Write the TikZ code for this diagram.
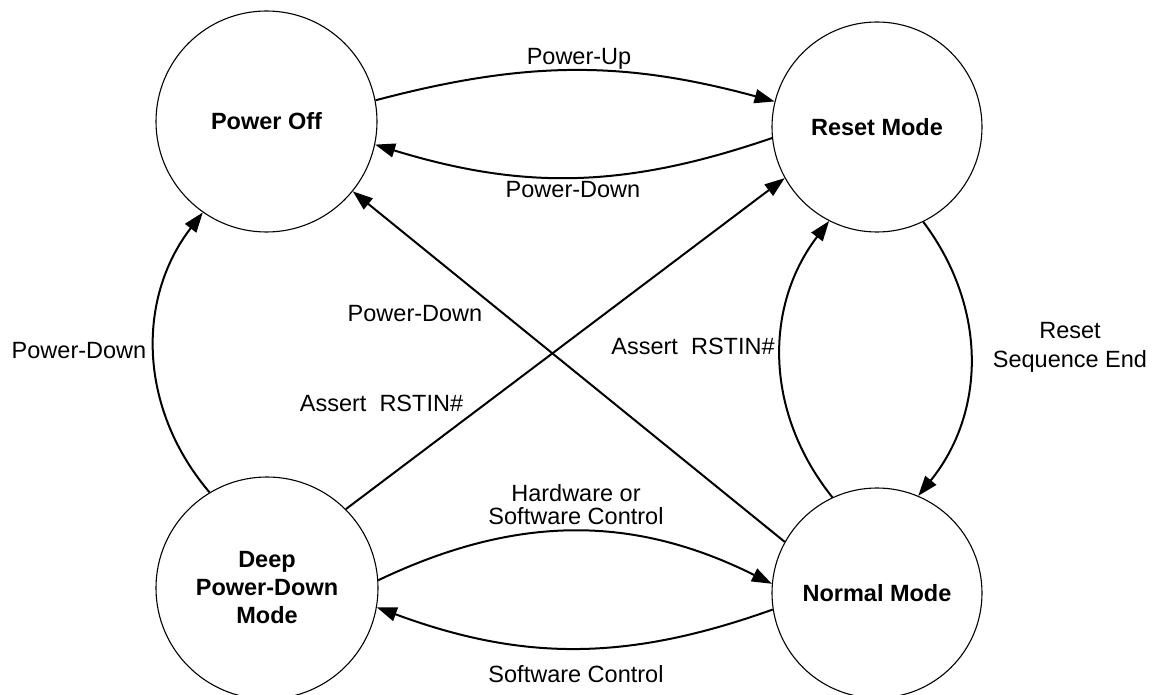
\documentclass[tikz,border=0pt]{standalone}
\usepackage{fontspec}
\setmainfont{Liberation Sans}
\usetikzlibrary{arrows.meta}
\newcommand\diagfont{\fontsize{23.5}{28}\selectfont}
\begin{document}
\begin{tikzpicture}[x=1pt,y=-1pt,
  state/.style={circle,draw,line width=1.1pt,inner sep=0pt,align=center,
    font=\diagfont\bfseries},
  trans/.style={line width=2pt,-{Triangle[length=20pt,width=14pt]}},
  lbl/.style={anchor=base,inner sep=0pt,align=center,font=\diagfont}]
\useasboundingbox (0,0) rectangle (1152,695);

% states
\node[state,minimum size=221pt] (off) at (266.5,121.5) {Power Off};
\node[state,minimum size=210pt] (rst) at (877,127) {Reset Mode};
\node[state,minimum size=222pt] (dpd) at (267,588) {Deep\\Power-Down\\Mode};
\node[state,minimum size=210pt] (nrm) at (877,593) {Normal Mode};

% transitions
\draw[trans] (off.11.7)   to[bend left=15] (rst.166.6);
\draw[trans] (rst.186)    to[bend left=18] (off.-12.3);
\draw[trans] (dpd.4.2)    to[bend left=26] (nrm.175.6);
\draw[trans] (nrm.189.5)  to[bend left=20] (dpd.-10.7);
\draw[trans] (dpd.121.5)  to[bend left=39] (off.235.5);
\draw[trans] (nrm.151.7)  -- (off.-39.9);
\draw[trans] (dpd.45.7)   -- (rst.209);
\draw[trans] (nrm.115.4)  to[bend left=38] (rst.243.2);
\draw[trans] (rst.-64.6)  to[bend left=38] (nrm.67.8);

% transition labels (base = baseline of the last line)
\node[lbl] (lPU)  at (579,65)    {Power-Up};
\node[lbl] (lPD1) at (573,198)   {Power-Down};
\node[lbl] (lHW)  at (576,524)   {Hardware or\\[-5pt]Software Control};
\node[lbl] (lSW)  at (576,682)   {Software Control};
\node[lbl] (lPD2) at (79,358)    {Power-Down};
\node[lbl] (lPD3) at (415,321)   {Power-Down};
\node[lbl] (lAR1) at (381.5,411) {Assert~~RSTIN\#};
\node[lbl] (lAR2) at (693,354)   {Assert~~RSTIN\#};
\node[lbl] (lRS)  at (1070,367)  {Reset\\[1pt]Sequence End};
\end{tikzpicture}
\end{document}
